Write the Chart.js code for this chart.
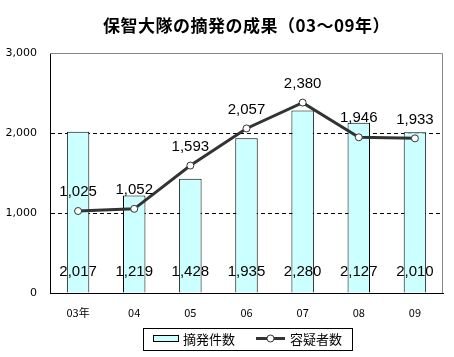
<!DOCTYPE html>
<html><head><meta charset="utf-8">
<script src="https://cdn.jsdelivr.net/npm/chart.js@4/dist/chart.umd.min.js"></script>
<style>html,body{margin:0;padding:0;background:#fff}#wrap{width:454px;height:357px}</style>
</head><body><div id="wrap"><canvas id="c" width="454" height="357"></canvas></div>
<script>
const titleText = '保智大隊の摘発の成果（03～09年）';
const categories = ['03年','04','05','06','07','08','09'];
const cases = [2017,1219,1428,1935,2280,2127,2010];
const suspects = [1025,1052,1593,2057,2380,1946,1933];
const yTicks = [0,1000,2000,3000];
const seriesNames = ['摘発件数','容疑者数'];

const numFont = '15px "Liberation Sans", sans-serif';
const fmt = v => v.toLocaleString('en-US');

const decor = {
  id: 'decor',
  afterDraw(chart) {
    const ctx = chart.ctx, a = chart.chartArea;
    ctx.save();
    // frame
    ctx.strokeStyle = '#888'; ctx.lineWidth = 1; ctx.setLineDash([]);
    ctx.beginPath(); ctx.moveTo(a.left, a.top + 0.5); ctx.lineTo(a.right - 0.5, a.top + 0.5); ctx.lineTo(a.right - 0.5, a.bottom); ctx.stroke();
    // title
    ctx.fillStyle = '#000';
    ctx.font = 'bold 17px "Noto Sans CJK JP", sans-serif';
    ctx.letterSpacing = '0.5px';
    ctx.textAlign = 'center'; ctx.textBaseline = 'middle';
    ctx.fillText(titleText, (a.left + a.right) / 2, 26);
    ctx.letterSpacing = '0px';
    // labels
    ctx.font = numFont; ctx.fillStyle = '#000';
    const barMeta = chart.getDatasetMeta(0), lineMeta = chart.getDatasetMeta(1);
    cases.forEach((v, i) => {
      ctx.fillText(fmt(v), barMeta.data[i].x, a.bottom - 21);
    });
    suspects.forEach((v, i) => {
      const p = lineMeta.data[i];
      ctx.fillText(fmt(v), p.x, p.y - 19);
    });
    // legend
    const lx = 143, ly = 328, lw = 209, lh = 22;
    ctx.strokeStyle = '#000'; ctx.lineWidth = 1;
    ctx.strokeRect(lx + 0.5, ly + 0.5, lw, lh);
    ctx.fillStyle = '#ccffff';
    ctx.fillRect(153.5, 335.5, 25, 6); ctx.strokeRect(153.5, 335.5, 25, 6);
    ctx.fillStyle = '#000'; ctx.textAlign = 'left';
    ctx.font = '13px "Noto Sans CJK JP", sans-serif';
    ctx.fillText(seriesNames[0], 183, 339.5);
    ctx.strokeStyle = '#333'; ctx.lineWidth = 3;
    ctx.beginPath(); ctx.moveTo(256, 338.5); ctx.lineTo(285, 338.5); ctx.stroke();
    ctx.lineWidth = 1; ctx.fillStyle = '#fff';
    ctx.beginPath(); ctx.arc(270.5, 338.5, 3.5, 0, Math.PI * 2); ctx.fill(); ctx.stroke();
    ctx.fillStyle = '#000';
    ctx.fillText(seriesNames[1], 290, 339.5);
    ctx.restore();
  }
};

new Chart(document.getElementById('c'), {
  data: {
    labels: categories,
    datasets: [
      { type: 'bar', label: seriesNames[0], data: cases, backgroundColor: '#ccffff', borderColor: '#000', borderWidth: 1,
        categoryPercentage: 1, barPercentage: 0.4, order: 2 },
      { type: 'line', label: seriesNames[1], data: suspects, borderColor: '#333', borderWidth: 3,
        pointRadius: 3.5, pointBackgroundColor: '#fff', pointBorderColor: '#333', pointBorderWidth: 1,
        tension: 0, order: 1 }
    ]
  },
  options: {
    responsive: false, animation: false,
    layout: { padding: { left: 0, right: 11, top: 53, bottom: 34 } },
    plugins: { legend: { display: false }, title: { display: false }, tooltip: { enabled: false } },
    scales: {
      x: {
        grid: { display: false, drawTicks: false },
        border: { color: '#000', width: 1 },
        ticks: { color: '#000', font: { family: '"Noto Sans CJK JP", sans-serif', size: 11 }, padding: 13, maxRotation: 0 },
        afterFit(s) { s.height = 30; }
      },
      y: {
        min: 0, max: 3000,
        afterBuildTicks(s) { s.ticks = yTicks.map(v => ({ value: v })); },
        grid: { drawTicks: false, color: c => (c.tick && (c.tick.value === 1000 || c.tick.value === 2000)) ? '#000' : 'rgba(0,0,0,0)' },
        border: { color: '#000', width: 1, dash: [4, 3] },
        ticks: { color: '#000', font: { family: '"DejaVu Sans", sans-serif', size: 11 }, padding: 13,
          callback: v => fmt(v) },
        afterFit(s) { s.width = 50; }
      }
    }
  },
  plugins: [decor]
});
</script></body></html>
